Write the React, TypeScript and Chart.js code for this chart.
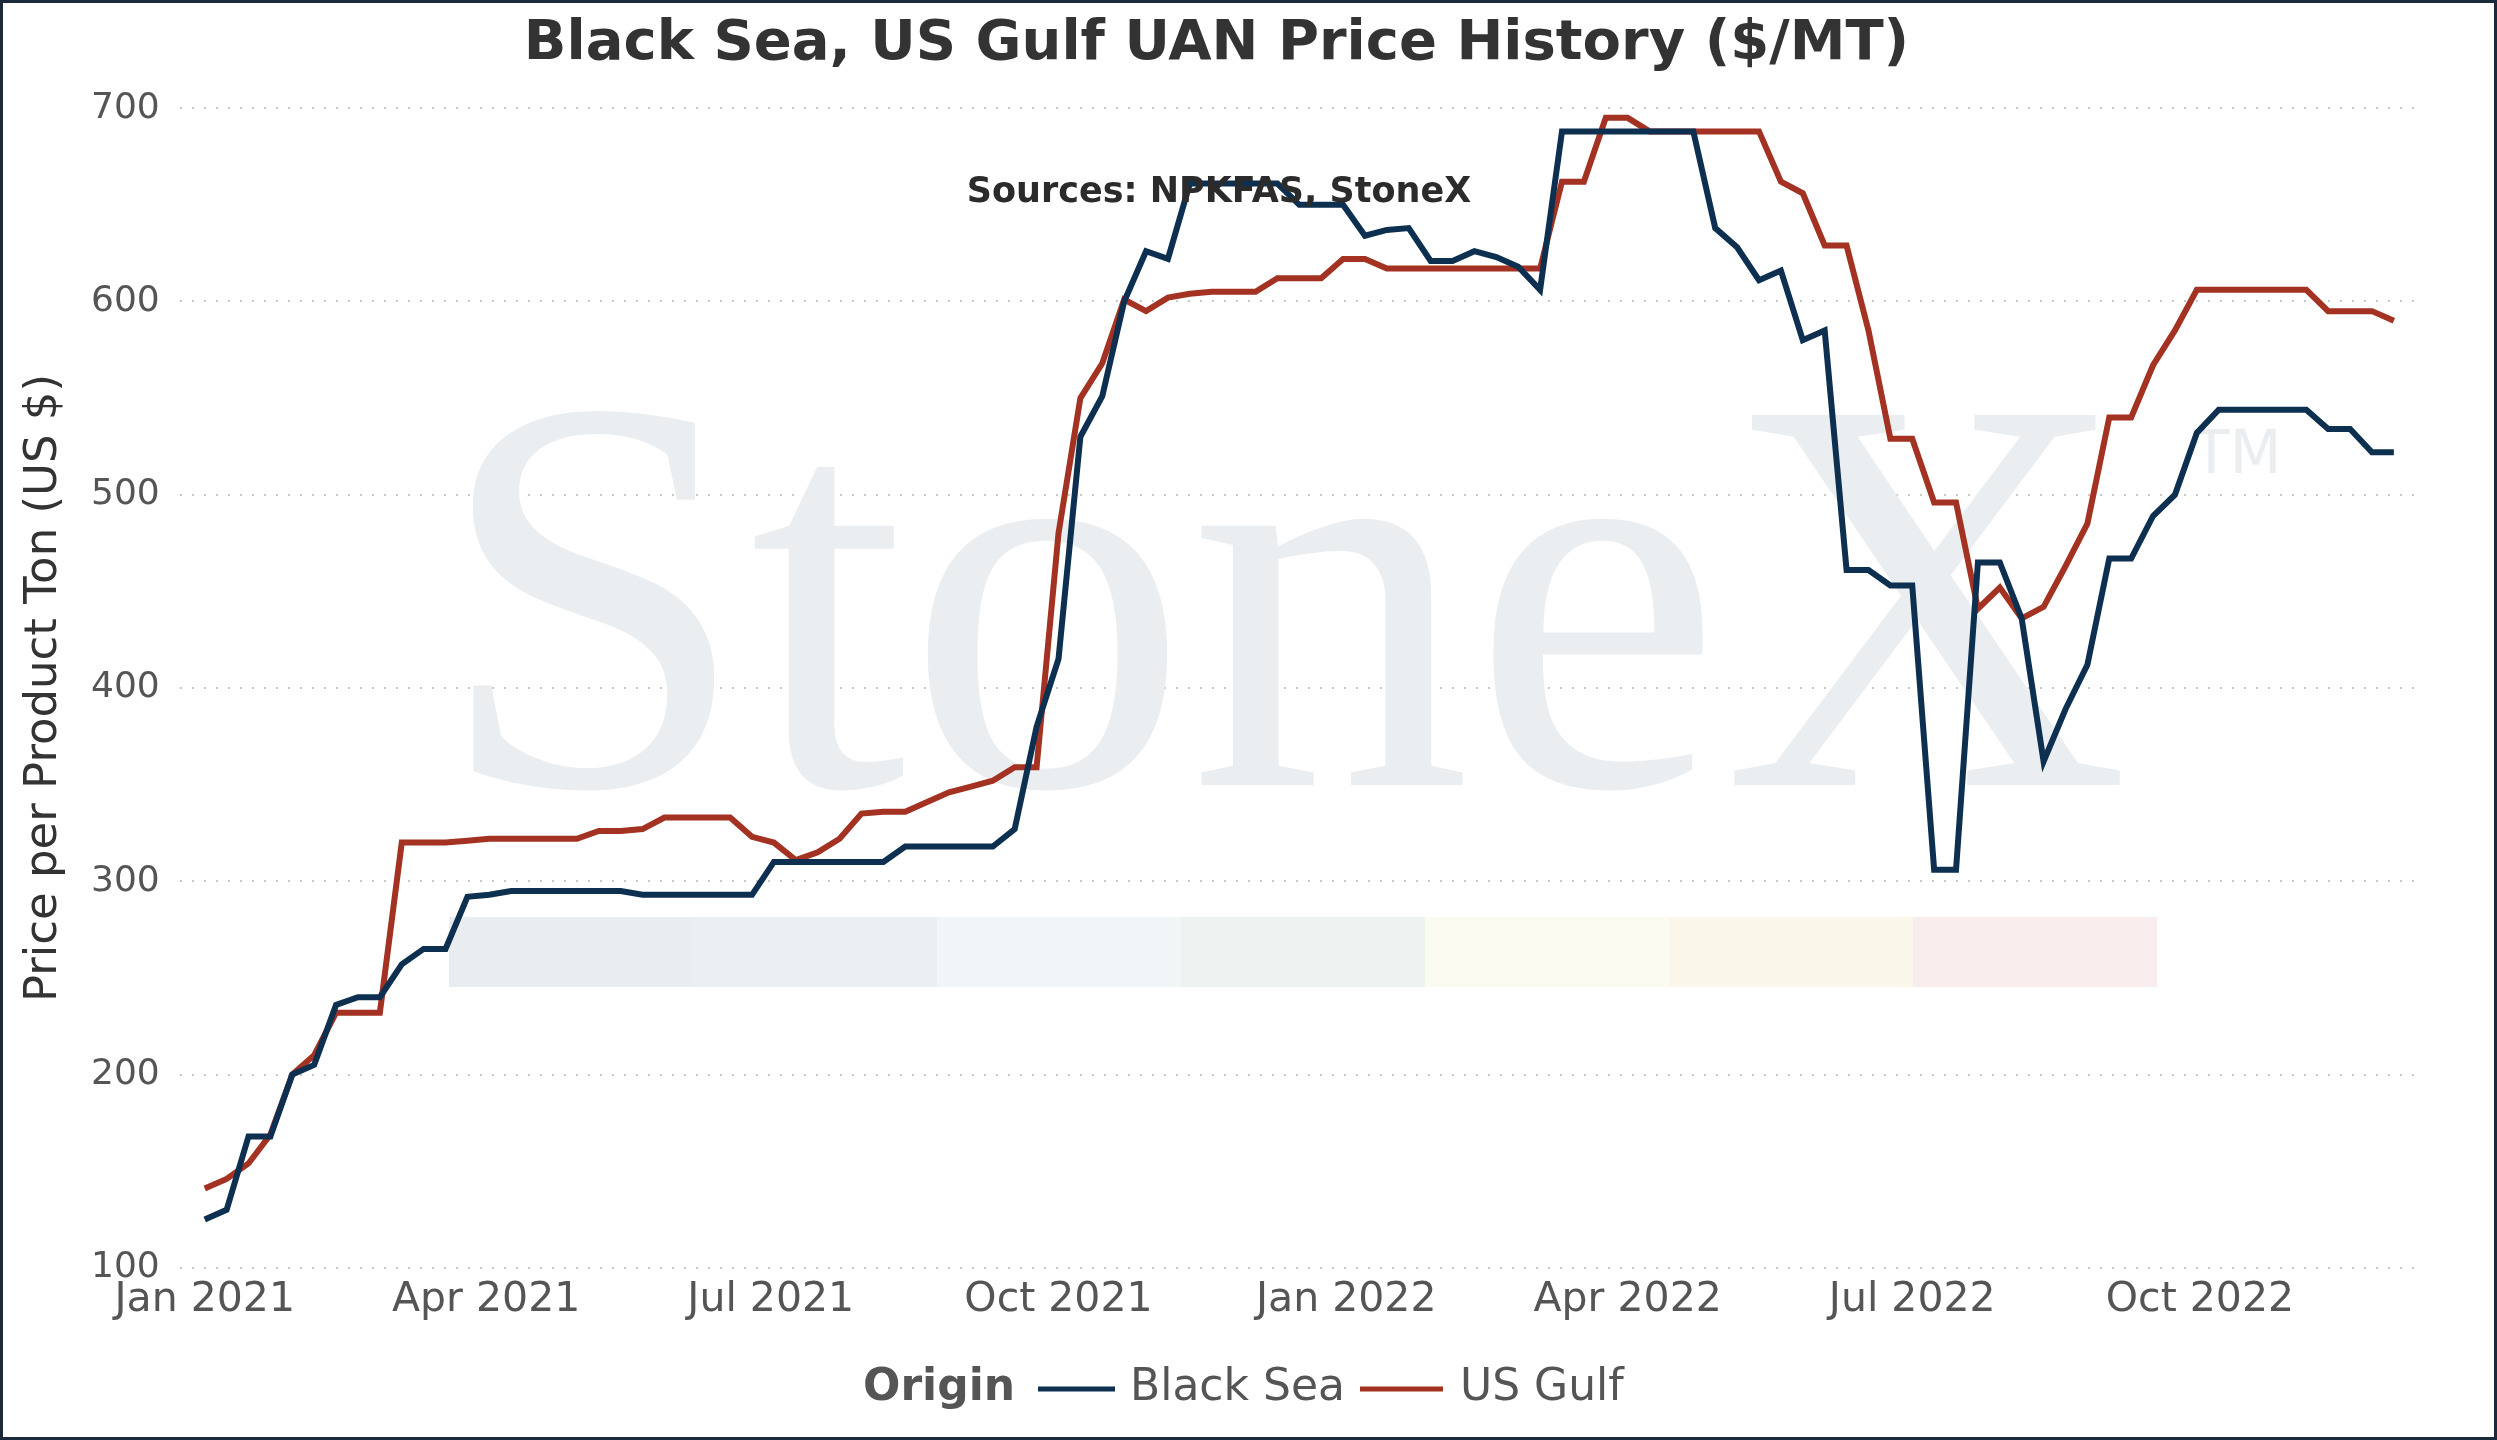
import React, { useEffect, useRef } from "react";
import { Chart, registerables } from "chart.js";
Chart.register(...registerables);

const weeks: number[] = Array.from({ length: 101 }, (_, i) => i * 7); // days since 2021-01-01, weekly
const blackSea = [125,130,168,168,200,205,236,240,240,257,265,265,292,293,295,295,295,295,295,295,293,293,293,293,293,293,310,310,310,310,310,310,318,318,318,318,318,327,380,415,530,551,600,626,622,661,661,661,661,661,650,650,650,634,637,638,621,621,626,623,618,606,688,688,688,688,688,688,688,638,628,611,616,580,585,461,461,453,453,306,306,465,465,436,362,389,412,467,467,489,500,532,544,544,544,544,544,534,534,522,522];
const usGulf = [141,146,154,169,200,210,232,232,232,320,320,320,321,322,322,322,322,322,326,326,327,333,333,333,333,323,320,311,315,322,335,336,336,341,346,349,352,359,359,480,550,568,601,595,602,604,605,605,605,612,612,612,622,622,617,617,617,617,617,617,617,617,662,662,695,695,688,688,688,688,688,688,662,656,629,629,585,529,529,496,496,441,452,436,442,463,485,540,540,567,585,606,606,606,606,606,606,595,595,595,590];
const tickDays = [0, 90, 181, 273, 365, 455, 546, 638];
const tickLabels = ["Jan 2021","Apr 2021","Jul 2021","Oct 2021","Jan 2022","Apr 2022","Jul 2022","Oct 2022"];
const bandColors = ["#e9edf0","#eaeff2","#f0f5f8","#ecf2ef","#fbfaf1","#fbf6ea","#f8ecec"];

const FONT = "'DejaVu Sans', Verdana, sans-serif";

export default function App() {
  const ref = useRef<HTMLCanvasElement>(null);
  useEffect(() => {
    document.body.style.margin = "0";
    const bg = {
      id: "bg",
      beforeDatasetsDraw(c: any) {
        const ctx = c.ctx;
        ctx.save();
        const x0 = 446, w = 244, y0 = 914, h = 70;
        bandColors.forEach((col, i) => { ctx.fillStyle = col; ctx.fillRect(x0 + i * w, y0, w, h); });
        ctx.fillStyle = "#ebeef1";
        ctx.font = "565px 'Liberation Serif', 'DejaVu Serif', serif";
        ctx.textBaseline = "alphabetic";
        ctx.textAlign = "left";
        ctx.fillText("StoneX", 432, 782);
        ctx.font = "60px " + FONT;
        ctx.fillText("TM", 2190, 470);
        ctx.restore();
      },
      afterDraw(c: any) {
        const ctx = c.ctx;
        ctx.save();
        ctx.fillStyle = "#2b2b2b";
        ctx.font = "bold 35px " + FONT;
        ctx.textAlign = "center"; ctx.textBaseline = "middle";
        ctx.fillText("Sources: NPKFAS, StoneX", 1216, 190);
        const y = 1386;
        ctx.textAlign = "left";
        ctx.fillStyle = "#555";
        ctx.font = "bold 44px " + FONT;
        ctx.fillText("Origin", 860, y);
        ctx.font = "44px " + FONT;
        ctx.lineWidth = 5;
        ctx.strokeStyle = "#0d3050";
        ctx.beginPath(); ctx.moveTo(1035, y); ctx.lineTo(1112, y); ctx.stroke();
        ctx.fillText("Black Sea", 1127, y);
        ctx.strokeStyle = "#a33222";
        ctx.beginPath(); ctx.moveTo(1357, y); ctx.lineTo(1440, y); ctx.stroke();
        ctx.fillText("US Gulf", 1457, y);
        ctx.restore();
      },
    };
    const chart = new Chart(ref.current!, {
      type: "line",
      data: {
        datasets: [
          { label: "Black Sea", data: weeks.map((d, i) => ({ x: d, y: blackSea[i] })), borderColor: "#0d3050", borderWidth: 6, pointRadius: 0, tension: 0 },
          { label: "US Gulf", data: weeks.map((d, i) => ({ x: d, y: usGulf[i] })), borderColor: "#a33222", borderWidth: 6, pointRadius: 0, tension: 0 },
        ],
      },
      options: {
        responsive: false,
        animation: false,
        layout: { padding: { top: 0, right: 72, bottom: 112, left: 8 } },
        plugins: {
          legend: { display: false },
          tooltip: { enabled: false },
          title: { display: true, text: "Black Sea, US Gulf UAN Price History ($/MT)", color: "#333", font: { family: FONT, size: 56, weight: "bold" }, padding: { top: 8, bottom: 30 } },
        },
        scales: {
          x: {
            type: "linear", min: -8, max: 709,
            afterBuildTicks: (ax: any) => { ax.ticks = tickDays.map((v) => ({ value: v })); },
            ticks: { autoSkip: false, maxRotation: 0, color: "#555", font: { family: FONT, size: 41 }, padding: 0,
              callback: (v: any) => tickLabels[tickDays.indexOf(Number(v))] ?? "" },
            grid: { display: false },
            border: { display: false },
          },
          y: {
            min: 100, max: 700,
            ticks: { stepSize: 100, color: "#555", font: { family: FONT, size: 36 }, padding: 20 },
            grid: { color: "#c8c8c8", lineWidth: 2, tickLength: 0 },
            border: { display: false, dash: [2, 10] },
            title: { display: true, text: "Price per Product Ton (US $)", color: "#333", font: { family: FONT, size: 45 }, padding: { top: 6, bottom: 0 } },
          },
        },
      } as any,
      plugins: [bg],
    });
    return () => chart.destroy();
  }, []);
  return (
    <div style={{ width: 2497, height: 1440, boxSizing: "border-box", border: "3px solid #1a2a3a", background: "#fff" }}>
      <canvas ref={ref} width={2491} height={1434} style={{ display: "block" }} />
    </div>
  );
}
